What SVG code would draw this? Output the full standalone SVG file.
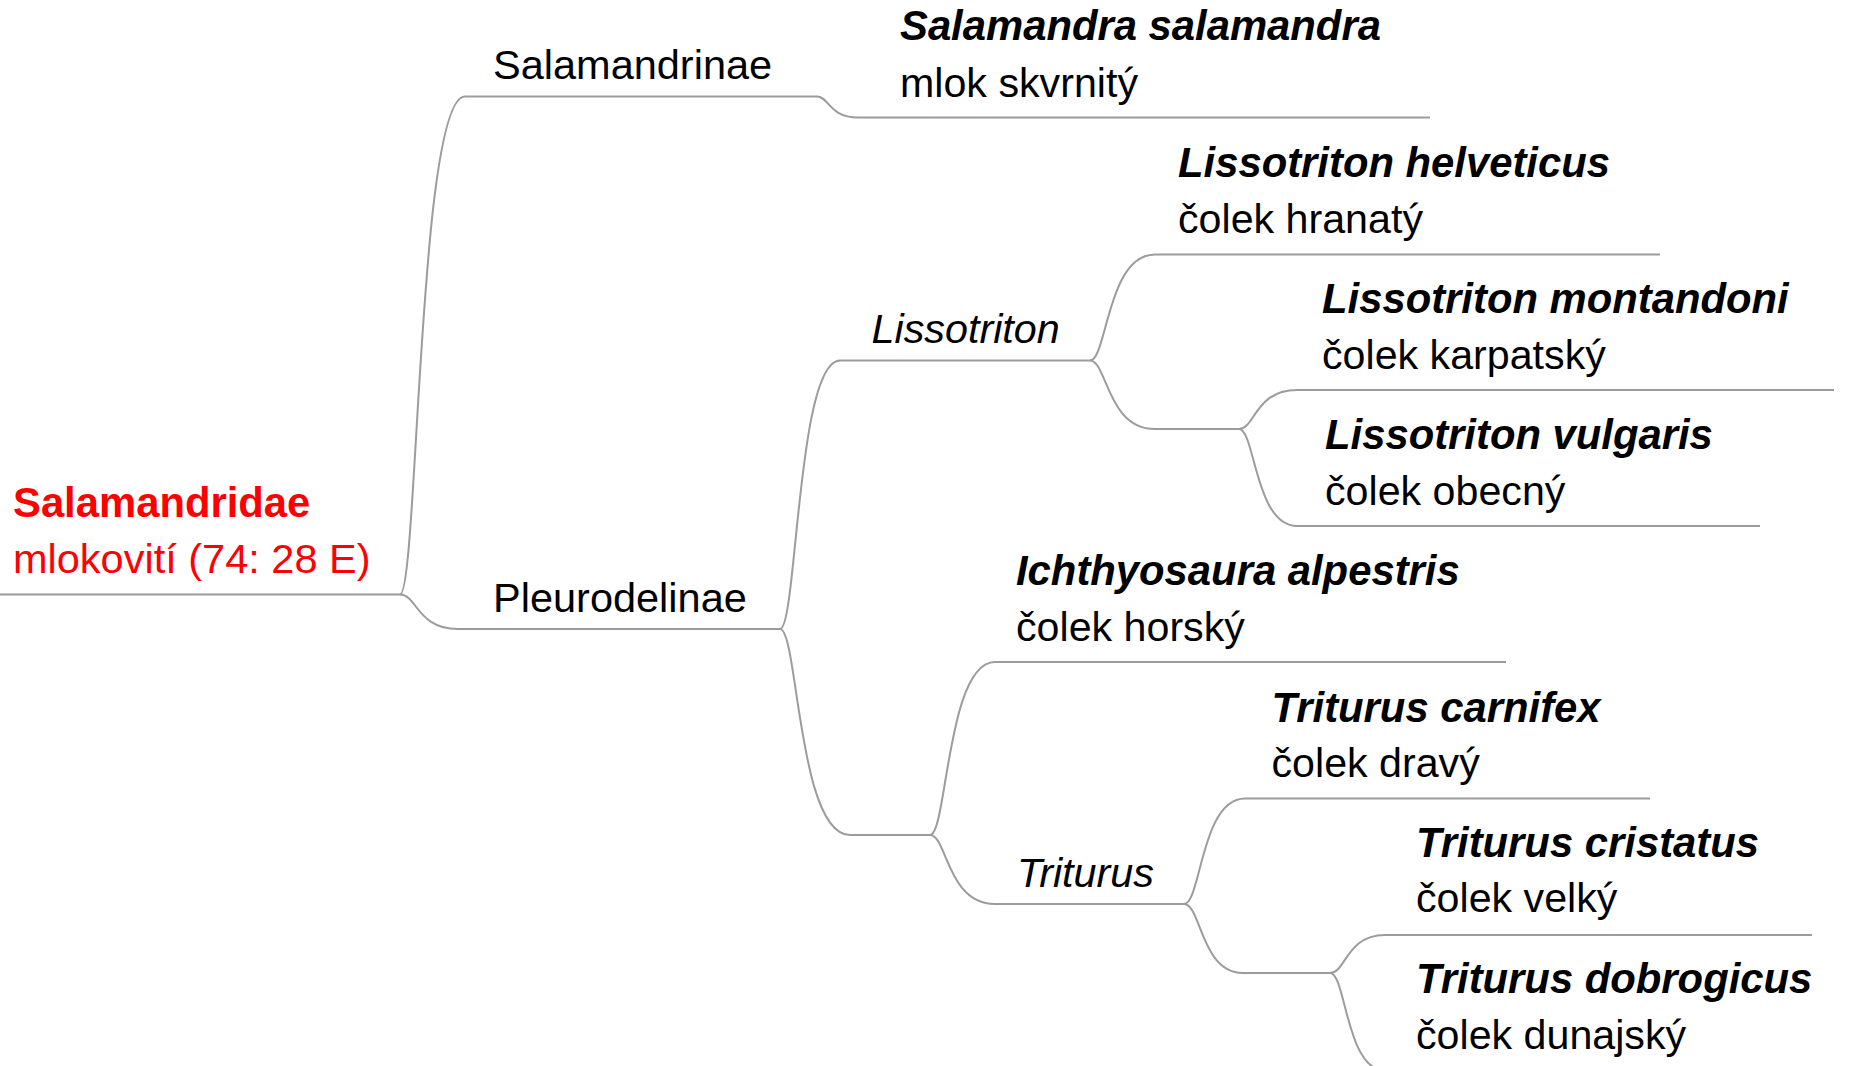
<svg xmlns="http://www.w3.org/2000/svg" width="1851" height="1066" viewBox="0 0 1851 1066">
<style>
.ln{fill:none;stroke:#9c9c9c;stroke-width:2}
text{font-family:"Liberation Sans",Arial,sans-serif;fill:#000}
.sp{font-size:41.8px;font-weight:bold;font-style:italic}
.cm{font-size:41.2px}
.gn{font-size:41.3px;font-style:italic}
.tx{font-size:41.5px}
.red{fill:#ff0000}
</style>
<rect width="1851" height="1066" fill="#fff"/>
<g id="connectors" class="ln">
<path d="M400,594.5 C418,594.5 418,96.5 465,96.5"/>
<path d="M400,594.5 C417,594.5 417,629 458,629"/>
<path d="M817,96.5 C829,96.5 829,117.5 858,117.5"/>
<path d="M780,629 C797,629 797,360.5 840,360.5"/>
<path d="M780,629 C798,629 798,835 850,835"/>
<path d="M930,835 C947,835 947,662 995,662"/>
<path d="M930,835 C947,835 947,904 995,904"/>
<path d="M1090,360.5 C1107,360.5 1107,254.5 1155,254.5"/>
<path d="M1090,360.5 C1107,360.5 1107,429 1155,429"/>
<path d="M1239,429 C1255,429 1255,390 1297,390"/>
<path d="M1239,429 C1255,429 1255,526 1297,526"/>
<path d="M1184,904 C1201,904 1201,798.5 1245,798.5"/>
<path d="M1184,904 C1201,904 1201,973 1243,973"/>
<path d="M1330,973 C1346,973 1346,935 1385,935"/>
<path d="M1330,973 C1346,973 1346,1070.5 1385,1070.5"/>
<path d="M1155,429 H1239"/>
<path d="M850,835 H930"/>
<path d="M1243,973 H1330"/>
</g>
<g id="n-salamandridae">
<path class="ln" d="M0,594.5 H400"/>
<text class="red" x="13" y="517" style="font-size:41.8px;font-weight:bold">Salamandridae</text>
<text class="red" x="13" y="573" style="font-size:41.5px">mlokovití (74: 28 E)</text>
</g>
<g id="n-salamandrinae">
<path class="ln" d="M465,96.5 H817"/>
<text class="tx" x="493" y="79">Salamandrinae</text>
</g>
<g id="n-salamandra">
<path class="ln" d="M858,117.5 H1430"/>
<text class="sp" x="900" y="40">Salamandra salamandra</text>
<text class="cm" x="900" y="96.5">mlok skvrnitý</text>
</g>
<g id="n-pleurodelinae">
<path class="ln" d="M458,629 H780"/>
<text class="tx" x="493" y="611.5">Pleurodelinae</text>
</g>
<g id="n-lissotriton">
<path class="ln" d="M840,360.5 H1090"/>
<text class="gn" x="871.5" y="342.5">Lissotriton</text>
</g>
<g id="n-helveticus">
<path class="ln" d="M1155,254.5 H1660"/>
<text class="sp" x="1178" y="177">Lissotriton helveticus</text>
<text class="cm" x="1178" y="232.5">čolek hranatý</text>
</g>
<g id="n-montandoni">
<path class="ln" d="M1297,390 H1834"/>
<text class="sp" x="1322" y="312.5">Lissotriton montandoni</text>
<text class="cm" x="1322" y="368.5">čolek karpatský</text>
</g>
<g id="n-vulgaris">
<path class="ln" d="M1297,526 H1760"/>
<text class="sp" x="1325" y="448.5">Lissotriton vulgaris</text>
<text class="cm" x="1325" y="504.5">čolek obecný</text>
</g>
<g id="n-ichthyosaura">
<path class="ln" d="M995,662 H1506"/>
<text class="sp" x="1016" y="584.5">Ichthyosaura alpestris</text>
<text class="cm" x="1016" y="640.5">čolek horský</text>
</g>
<g id="n-triturus">
<path class="ln" d="M995,904 H1184"/>
<text class="gn" x="1017" y="886.5">Triturus</text>
</g>
<g id="n-carnifex">
<path class="ln" d="M1245,798.5 H1650"/>
<text class="sp" x="1271.5" y="721.5">Triturus carnifex</text>
<text class="cm" x="1271.5" y="777">čolek dravý</text>
</g>
<g id="n-cristatus">
<path class="ln" d="M1385,935 H1812"/>
<text class="sp" x="1416" y="856.5">Triturus cristatus</text>
<text class="cm" x="1416" y="912">čolek velký</text>
</g>
<g id="n-dobrogicus">
<path class="ln" d="M1385,1070.5 H1800"/>
<text class="sp" x="1416" y="993">Triturus dobrogicus</text>
<text class="cm" x="1416" y="1048.5">čolek dunajský</text>
</g>
</svg>
